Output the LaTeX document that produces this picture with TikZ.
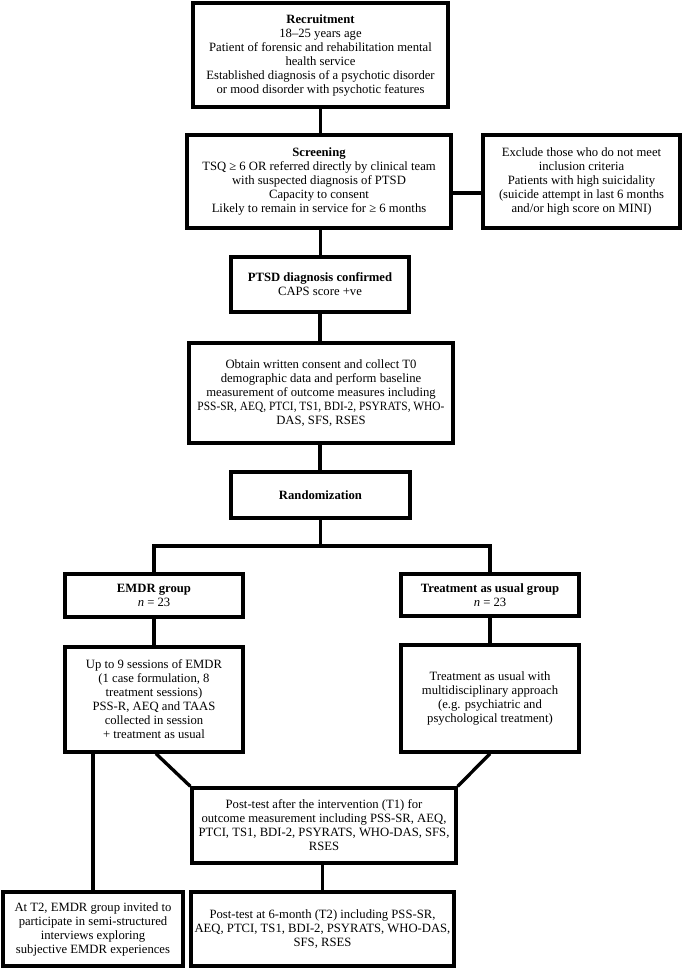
\documentclass[tikz,border=0pt]{standalone}
\usepackage{fontspec}
\setmainfont{Liberation Serif}
\newfontfamily\narrowserif[FakeStretch=0.9]{Liberation Serif}
\begin{document}
\begin{tikzpicture}[x=0.75pt,y=-0.75pt,
  box/.style={draw, line width=2.5pt, rectangle, inner sep=0pt, align=center,
    font=\fontsize{9.5}{10.5}\selectfont},
  sz/.style 2 args={minimum width=#1*0.75pt, minimum height=#2*0.75pt},
  link/.style={line width=2.5pt}]
\useasboundingbox (0,0) rectangle (685,969);
\node[box, sz={255}{104}] (rec) at (320.5,55) {\textbf{Recruitment}\\18–25 years age\\Patient of forensic and rehabilitation mental\\health service\\Established diagnosis of a psychotic disorder\\or mood disorder with psychotic features};
\node[box, sz={264}{93}] (scr) at (319,181.5) {\textbf{Screening}\\TSQ ≥ 6 OR referred directly by clinical team\\with suspected diagnosis of PTSD\\Capacity to consent\\Likely to remain in service for ≥ 6 months};
\node[box, sz={197}{93}] (exc) at (581.5,181.5) {Exclude those who do not meet\\inclusion criteria\\Patients with high suicidality\\(suicide attempt in last 6 months\\and/or high score on MINI)};
\node[box, sz={178}{55}] (ptsd) at (320,284.5) {\textbf{PTSD diagnosis confirmed}\\CAPS score +ve};
\node[box, sz={264}{100}] (cons) at (321,393) {Obtain written consent and collect T0\\demographic data and perform baseline\\measurement of outcome measures including\\{\narrowserif PSS-SR, AEQ, PTCI, TS1, BDI-2, PSYRATS, WHO-}\\DAS, SFS, RSES};
\node[box, sz={179}{46}] (rand) at (320.5,495) {\textbf{Randomization}};
\node[box, sz={178}{43}] (emg) at (154,595.5) {\textbf{EMDR group}\\\textit{n} = 23};
\node[box, sz={178}{42}] (tag) at (490,595) {\textbf{Treatment as usual group}\\\textit{n} = 23};
\node[box, sz={178}{105}] (ems) at (154,699.5) {Up to 9 sessions of EMDR\\(1 case formulation, 8\\treatment sessions)\\PSS-R, AEQ and TAAS\\collected in session\\+ treatment as usual};
\node[box, sz={178}{107}] (tat) at (490,698.5) {Treatment as usual with\\multidisciplinary approach\\(e.g. psychiatric and\\psychological treatment)};
\node[box, sz={264}{75}] (t1) at (324,825.5) {Post-test after the intervention (T1) for\\outcome measurement including PSS-SR, AEQ,\\PTCI, TS1, BDI-2, PSYRATS, WHO-DAS, SFS,\\RSES};
\node[box, sz={263}{74}] (t2) at (322.5,929) {Post-test at 6-month (T2) including PSS-SR,\\AEQ, PTCI, TS1, BDI-2, PSYRATS, WHO-DAS,\\SFS, RSES};
\node[box, sz={180}{74}] (bl) at (93,929) {At T2, EMDR group invited to\\participate in semi-structured\\interviews exploring\\subjective EMDR experiences};
\coordinate (ey) at (460,193);
\coordinate (j) at (321,546);
\coordinate (dl) at (156,752);
\draw[link] (rec.south) -- (rec.south |- scr.north);
\draw[link] (scr.east |- ey) -- (exc.west |- ey);
\draw[link] (scr.south -| rec.south) -- (ptsd.north -| rec.south);
\draw[link] (ptsd.south) -- (ptsd.south |- cons.north);
\draw[link] (cons.south -| ptsd.south) -- (rand.north -| ptsd.south);
\draw[link] (rand.south) -- (rand.south |- j);
\draw[link] (emg.north) -- (emg.north |- j) -- (tag.north |- j) -- (tag.north);
\draw[link] (emg.south) -- (ems.north);
\draw[link] (tag.south) -- (tat.north);
\draw[link] (bl.north |- ems.south) -- (bl.north);
\draw[link] (dl |- ems.south) -- (t1.north west);
\draw[link] (tat.south) -- (t1.north east);
\draw[link] (t1.south -| t2.north) -- (t2.north);
\end{tikzpicture}
\end{document}
